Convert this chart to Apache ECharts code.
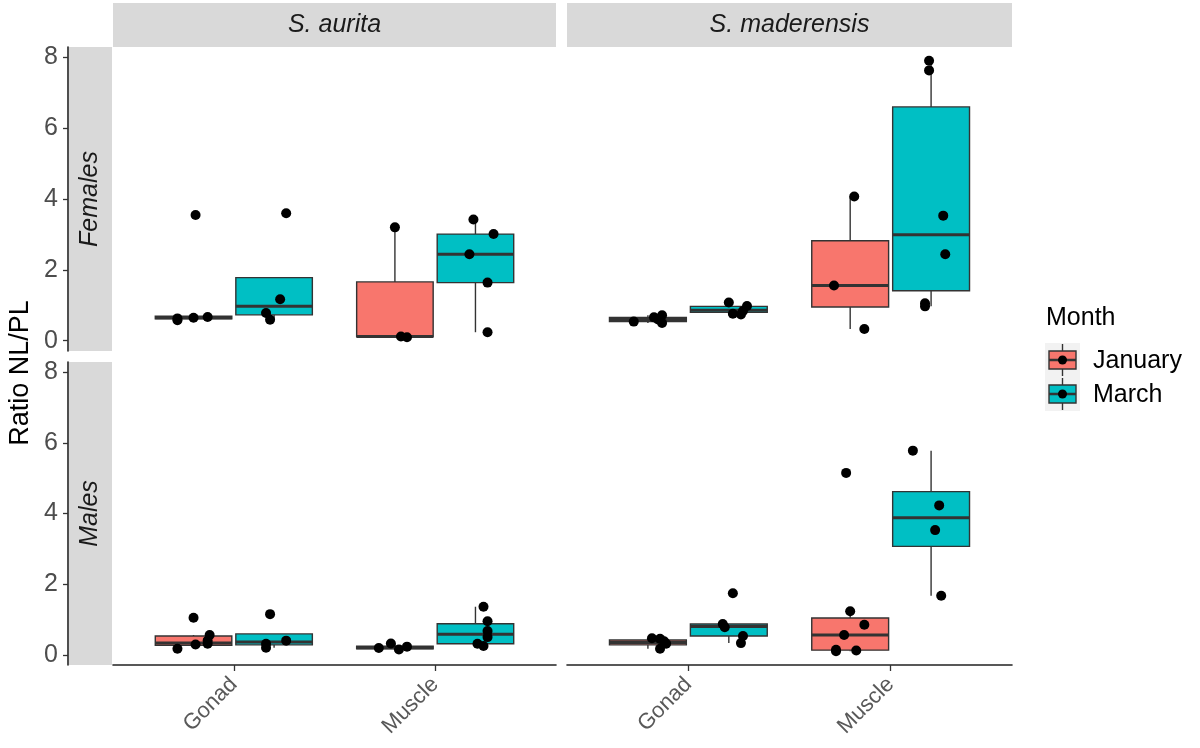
<!DOCTYPE html>
<html>
<head>
<meta charset="utf-8">
<title>Ratio NL/PL</title>
<script src="https://cdn.jsdelivr.net/npm/echarts@6/dist/echarts.min.js"></script>
<style>
    html, body { margin: 0; padding: 0; background: #fff; }
    #chart { width: 1200px; height: 748px; }
</style>
</head>
<body>
<div id="chart"></div>
<script>
// 分面标签
const species = ['S. aurita', 'S. maderensis'];
const sexes = ['Females', 'Males'];
const tissues = ['Gonad', 'Muscle'];
const months = ['January', 'March'];
const yTicks = [0, 2, 4, 6, 8];

// 箱线统计: 组织, 月份, 下须, Q1, 中位数, Q3, 上须
const femAuritaBoxes = [
    ['Gonad', 'January', 0.58, 0.62, 0.65, 0.69, 0.69],
    ['Gonad', 'March', 0.59, 0.73, 0.97, 1.78, 1.78],
    ['Muscle', 'January', 0.10, 0.11, 0.12, 1.66, 3.20],
    ['Muscle', 'March', 0.24, 1.64, 2.44, 3.01, 3.42]
];
const femMadBoxes = [
    ['Gonad', 'January', 0.50, 0.54, 0.60, 0.66, 0.72],
    ['Gonad', 'March', 0.74, 0.80, 0.86, 0.97, 1.08],
    ['Muscle', 'January', 0.33, 0.95, 1.56, 2.82, 4.07],
    ['Muscle', 'March', 0.97, 1.41, 2.99, 6.60, 7.90]
];
const maleAuritaBoxes = [
    ['Gonad', 'January', 0.17, 0.27, 0.33, 0.53, 0.56],
    ['Gonad', 'March', 0.20, 0.28, 0.36, 0.59, 0.59],
    ['Muscle', 'January', 0.15, 0.17, 0.20, 0.24, 0.32],
    ['Muscle', 'March', 0.25, 0.31, 0.58, 0.88, 1.36]
];
const maleMadBoxes = [
    ['Gonad', 'January', 0.17, 0.28, 0.35, 0.42, 0.47],
    ['Gonad', 'March', 0.33, 0.53, 0.80, 0.87, 0.87],
    ['Muscle', 'January', 0.10, 0.13, 0.56, 1.04, 1.23],
    ['Muscle', 'March', 1.67, 3.07, 3.88, 4.62, 5.78]
];

// 散点: 组织, 月份, 抖动偏移, 数值
const femAuritaPoints = [
    ['Gonad', 'January', -0.08, 0.58], ['Gonad', 'January', -0.08, 0.63], ['Gonad', 'January', 0.00, 0.65],
    ['Gonad', 'January', 0.07, 0.67], ['Gonad', 'January', 0.01, 3.55],
    ['Gonad', 'March', 0.06, 3.60], ['Gonad', 'March', 0.03, 1.17], ['Gonad', 'March', -0.04, 0.78],
    ['Gonad', 'March', -0.02, 0.59],
    ['Muscle', 'January', 0.00, 3.20], ['Muscle', 'January', 0.03, 0.12], ['Muscle', 'January', 0.06, 0.10],
    ['Muscle', 'March', -0.01, 3.42], ['Muscle', 'March', 0.09, 3.01], ['Muscle', 'March', -0.03, 2.44],
    ['Muscle', 'March', 0.06, 1.64], ['Muscle', 'March', 0.06, 0.24]
];
const femMadPoints = [
    ['Gonad', 'January', -0.07, 0.54], ['Gonad', 'January', 0.03, 0.66], ['Gonad', 'January', 0.07, 0.72],
    ['Gonad', 'January', 0.07, 0.50], ['Gonad', 'January', 0.05, 0.60],
    ['Gonad', 'March', 0.00, 1.08], ['Gonad', 'March', 0.02, 0.76], ['Gonad', 'March', 0.06, 0.74],
    ['Gonad', 'March', 0.09, 0.98], ['Gonad', 'March', 0.07, 0.84],
    ['Muscle', 'January', 0.02, 4.07], ['Muscle', 'January', -0.08, 1.56], ['Muscle', 'January', 0.07, 0.33],
    ['Muscle', 'March', -0.01, 7.90], ['Muscle', 'March', -0.01, 7.63], ['Muscle', 'March', 0.06, 3.53],
    ['Muscle', 'March', 0.07, 2.44], ['Muscle', 'March', -0.03, 1.06], ['Muscle', 'March', -0.03, 0.97]
];
const maleAuritaPoints = [
    ['Gonad', 'January', 0.00, 1.05], ['Gonad', 'January', -0.08, 0.17], ['Gonad', 'January', 0.01, 0.29],
    ['Gonad', 'January', 0.07, 0.31], ['Gonad', 'January', 0.08, 0.56], ['Gonad', 'January', 0.07, 0.40],
    ['Gonad', 'March', -0.02, 1.15], ['Gonad', 'March', -0.04, 0.31], ['Gonad', 'March', -0.04, 0.20],
    ['Gonad', 'March', 0.06, 0.40],
    ['Muscle', 'January', -0.08, 0.19], ['Muscle', 'January', -0.02, 0.32], ['Muscle', 'January', 0.02, 0.15],
    ['Muscle', 'January', 0.06, 0.23],
    ['Muscle', 'March', 0.04, 1.36], ['Muscle', 'March', 0.06, 0.95], ['Muscle', 'March', 0.06, 0.67],
    ['Muscle', 'March', 0.06, 0.50], ['Muscle', 'March', 0.01, 0.31], ['Muscle', 'March', 0.04, 0.25]
];
const maleMadPoints = [
    ['Gonad', 'January', 0.02, 0.47], ['Gonad', 'January', 0.06, 0.45], ['Gonad', 'January', 0.09, 0.31],
    ['Gonad', 'January', 0.06, 0.17], ['Gonad', 'January', 0.08, 0.38],
    ['Gonad', 'March', 0.02, 1.74], ['Gonad', 'March', -0.03, 0.87], ['Gonad', 'March', -0.02, 0.78],
    ['Gonad', 'March', 0.07, 0.53], ['Gonad', 'March', 0.06, 0.33],
    ['Muscle', 'January', -0.02, 5.15], ['Muscle', 'January', 0.00, 1.23], ['Muscle', 'January', 0.07, 0.85],
    ['Muscle', 'January', -0.03, 0.56], ['Muscle', 'January', -0.07, 0.14], ['Muscle', 'January', 0.03, 0.12],
    ['Muscle', 'January', -0.07, 0.10],
    ['Muscle', 'March', -0.09, 5.78], ['Muscle', 'March', 0.04, 4.23], ['Muscle', 'March', 0.02, 3.53],
    ['Muscle', 'March', 0.05, 1.67]
];

// 样式
const monthColors = { January: '#F8766D', March: '#00BFC4' };
const DODGE = 0.2;
const BOX_HALF = 0.19;
const Y_MIN = -0.29, Y_MAX = 8.29;
const FONT = "'Liberation Sans', Arial, sans-serif";
const STRIP = '#d9d9d9';
const INK = '#333333';

const panels = [
    { boxes: femAuritaBoxes, points: femAuritaPoints, left: 113, top: 47, width: 443, height: 304, col: 0, row: 0 },
    { boxes: femMadBoxes, points: femMadPoints, left: 567, top: 47, width: 445, height: 304, col: 1, row: 0 },
    { boxes: maleAuritaBoxes, points: maleAuritaPoints, left: 113, top: 362, width: 443, height: 303, col: 0, row: 1 },
    { boxes: maleMadBoxes, points: maleMadPoints, left: 567, top: 362, width: 445, height: 303, col: 1, row: 1 }
];

function xPos(tissue, month, jitter) {
    return tissues.indexOf(tissue) + 1 + (month === 'January' ? -DODGE : DODGE) + (jitter || 0);
}

/**
 * 绘制箱体
 */
function renderBox(params, api) {
    const x = api.value(0);
    const hi = api.coord([x, api.value(5)]);
    const q3 = api.coord([x, api.value(4)]);
    const med = api.coord([x, api.value(3)]);
    const q1 = api.coord([x, api.value(2)]);
    const lo = api.coord([x, api.value(1)]);
    const half = api.size([BOX_HALF, 0])[0];
    const cx = med[0];
    const color = months[api.value(6)] === 'January' ? monthColors.January : monthColors.March;
    const thin = { stroke: INK, lineWidth: 1.4 };
    return {
        type: 'group',
        children: [
            { type: 'line', shape: { x1: cx, y1: hi[1], x2: cx, y2: q3[1] }, style: thin },
            { type: 'line', shape: { x1: cx, y1: q1[1], x2: cx, y2: lo[1] }, style: thin },
            {
                type: 'rect',
                shape: { x: cx - half, y: q3[1], width: half * 2, height: Math.max(q1[1] - q3[1], 1) },
                style: { fill: color, stroke: INK, lineWidth: 1.4 }
            },
            { type: 'line', shape: { x1: cx - half, y1: med[1], x2: cx + half, y2: med[1] }, style: { stroke: INK, lineWidth: 3 } }
        ]
    };
}

const grids = panels.map(p => ({ left: p.left, top: p.top, width: p.width, height: p.height, containLabel: false }));

const xAxes = panels.map((p, i) => ({
    type: 'value',
    gridIndex: i,
    min: 0.4,
    max: 2.6,
    show: p.row === 1,
    splitLine: { show: false },
    axisLine: { show: true, onZero: false, lineStyle: { color: '#222', width: 1.6 } },
    axisTick: { show: true, length: 6, customValues: [1, 2], lineStyle: { color: INK, width: 1.3 } },
    axisLabel: {
        show: true,
        customValues: [1, 2],
        rotate: 45,
        margin: 16,
        color: '#595959',
        fontSize: 22,
        fontFamily: FONT,
        formatter: v => tissues[Math.round(v) - 1] || ''
    }
}));

const yAxes = panels.map((p, i) => ({
    type: 'value',
    gridIndex: i,
    min: Y_MIN,
    max: Y_MAX,
    show: p.col === 0,
    offset: 45,
    splitLine: { show: false },
    axisLine: { show: true, onZero: false, lineStyle: { color: '#222', width: 1.6 } },
    axisTick: { show: true, length: 5, customValues: yTicks, lineStyle: { color: INK, width: 1.3 } },
    axisLabel: {
        show: true,
        customValues: yTicks,
        margin: 10,
        color: '#4d4d4d',
        fontSize: 25,
        fontFamily: FONT
    }
}));

const series = [];
panels.forEach((p, i) => {
    series.push({
        type: 'custom',
        name: 'box-' + i,
        xAxisIndex: i,
        yAxisIndex: i,
        renderItem: renderBox,
        encode: { x: 0, y: [1, 2, 3, 4, 5] },
        data: p.boxes.map(b => [xPos(b[0], b[1]), b[2], b[3], b[4], b[5], b[6], months.indexOf(b[1])]),
        z: 2,
        silent: true
    });
    series.push({
        type: 'scatter',
        name: 'points-' + i,
        xAxisIndex: i,
        yAxisIndex: i,
        symbolSize: 10,
        itemStyle: { color: '#000', opacity: 1 },
        data: p.points.map(pt => [xPos(pt[0], pt[1], pt[2]), pt[3]]),
        z: 3,
        silent: true
    });
});

// 分面条带与图例
const graphic = [];
species.forEach((name, c) => {
    const p = panels[c];
    graphic.push({
        type: 'rect', left: p.left, top: 3,
        shape: { width: p.width, height: 44 },
        style: { fill: STRIP }
    });
    graphic.push({
        type: 'text', x: p.left + p.width / 2, y: 25,
        style: { text: name, fill: '#1a1a1a', font: 'italic 25px ' + FONT, textAlign: 'center', textVerticalAlign: 'middle' }
    });
});
sexes.forEach((name, r) => {
    const p = panels[r * 2];
    graphic.push({
        type: 'rect', left: 69, top: p.top,
        shape: { width: 43, height: p.height },
        style: { fill: STRIP }
    });
    graphic.push({
        type: 'text', x: 90.5, y: p.top + p.height / 2, rotation: Math.PI / 2,
        style: { text: name, fill: '#1a1a1a', font: 'italic 25px ' + FONT, textAlign: 'center', textVerticalAlign: 'middle' }
    });
});
graphic.push({
    type: 'text', x: 21, y: 373, rotation: Math.PI / 2,
    style: { text: 'Ratio NL/PL', fill: '#000', font: '27px ' + FONT, textAlign: 'center', textVerticalAlign: 'middle' }
});
graphic.push({
    type: 'text', x: 1046, y: 318,
    style: { text: 'Month', fill: '#000', font: '25px ' + FONT, textAlign: 'left', textVerticalAlign: 'middle' }
});
months.forEach((m, k) => {
    const top = 343 + k * 34;
    const cx = 1062.5;
    graphic.push({ type: 'rect', left: 1045, top: top, shape: { width: 35, height: 34 }, style: { fill: '#f2f2f2' } });
    graphic.push({ type: 'line', shape: { x1: cx, y1: top + 1, x2: cx, y2: top + 33 }, style: { stroke: INK, lineWidth: 1.4 } });
    graphic.push({ type: 'rect', shape: { x: 1049, y: top + 8, width: 27, height: 18 }, style: { fill: monthColors[m], stroke: INK, lineWidth: 1.4 } });
    graphic.push({ type: 'line', shape: { x1: 1049, y1: top + 17, x2: 1076, y2: top + 17 }, style: { stroke: INK, lineWidth: 2.5 } });
    graphic.push({ type: 'circle', shape: { cx: cx, cy: top + 17, r: 4.5 }, style: { fill: '#000' } });
    graphic.push({
        type: 'text', x: 1093, y: top + 18,
        style: { text: m, fill: '#000', font: '25px ' + FONT, textAlign: 'left', textVerticalAlign: 'middle' }
    });
});

const chart = echarts.init(document.getElementById('chart'), null, { renderer: 'canvas' });
chart.setOption({
    animation: false,
    backgroundColor: '#ffffff',
    grid: grids,
    xAxis: xAxes,
    yAxis: yAxes,
    series: series,
    graphic: graphic
});
</script>
</body>
</html>
